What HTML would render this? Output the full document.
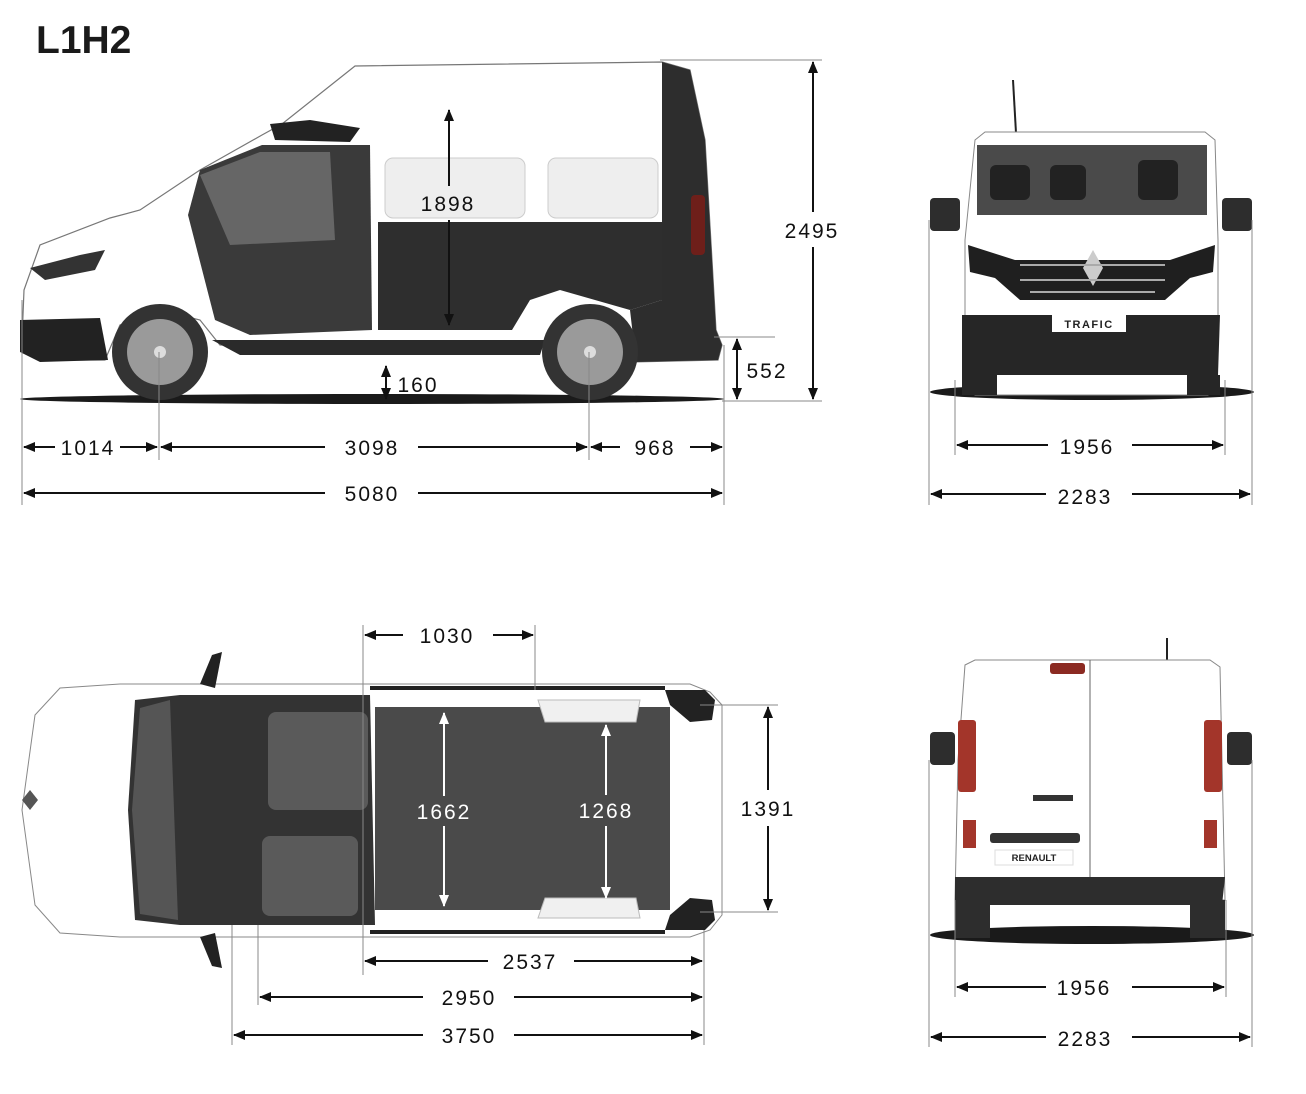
<!DOCTYPE html>
<html><head><meta charset="utf-8"><style>
html,body{margin:0;padding:0;background:#fff;}
svg{display:block;}
.t{font-family:"Liberation Sans",sans-serif;font-size:21px;fill:#111;letter-spacing:2px;text-anchor:middle;}
.tw{fill:#fff;}
.ext{stroke:#888;stroke-width:1;}
.dl{stroke:#111;stroke-width:2;fill:none;}
</style></head><body>
<svg width="1306" height="1094" viewBox="0 0 1306 1094" xmlns="http://www.w3.org/2000/svg">
<defs>
<marker id="a" viewBox="0 0 12 10" refX="11" refY="5" markerWidth="12" markerHeight="10" markerUnits="userSpaceOnUse" orient="auto-start-reverse"><path d="M0,0L12,5L0,10z" fill="#111"/></marker>
<marker id="w" viewBox="0 0 12 10" refX="11" refY="5" markerWidth="12" markerHeight="10" markerUnits="userSpaceOnUse" orient="auto-start-reverse"><path d="M0,0L12,5L0,10z" fill="#fff"/></marker>
</defs>
<text x="36" y="53" font-family="Liberation Sans,sans-serif" font-weight="bold" font-size="39" fill="#1a1a1a">L1H2</text>

<!-- SIDE VIEW -->
<ellipse cx="372" cy="399" rx="352" ry="5" fill="#1a1a1a"/>
<path d="M22,340 L24,290 L40,245 L110,218 L140,210 L200,170 L262,135 L282,124 L355,66 L662,62 L690,70 L705,140 L712,260 L716,330 L722,345 L718,360 L630,362 L600,330 L560,325 L540,345 L220,345 L200,320 L160,310 L120,325 L105,360 L40,360 Z" fill="#fff" stroke="#777" stroke-width="1.2"/>
<path d="M662,62 L690,70 L705,140 L712,260 L716,330 L722,345 L718,360 L636,362 L630,310 L662,300 Z" fill="#2d2d2d"/>
<path d="M378,222 L662,222 L662,300 L630,310 L560,290 L530,300 L512,330 L378,330 Z" fill="#2e2e2e"/>
<path d="M188,215 L200,170 L262,145 L370,145 L372,330 L250,335 L215,320 Z" fill="#3a3a3a"/>
<path d="M200,175 L260,152 L330,152 L335,240 L230,245 Z" fill="#666"/>
<rect x="385" y="158" width="140" height="60" rx="8" fill="#eee" stroke="#ccc"/>
<rect x="548" y="158" width="110" height="60" rx="8" fill="#eee" stroke="#ccc"/>
<path d="M270,124 L310,120 L360,128 L350,142 L275,140 Z" fill="#222"/>
<path d="M20,320 L100,318 L108,360 L40,362 L20,352 Z" fill="#222"/>
<path d="M30,268 L80,255 L105,250 L95,270 L45,280 Z" fill="#333"/>
<path d="M212,340 L545,340 L540,355 L240,355 Z" fill="#2a2a2a"/>
<rect x="691" y="195" width="14" height="60" rx="4" fill="#6e1f1a"/>
<circle cx="160" cy="352" r="48" fill="#333"/><circle cx="160" cy="352" r="33" fill="#9a9a9a"/><circle cx="160" cy="352" r="6" fill="#ddd"/>
<circle cx="590" cy="352" r="48" fill="#333"/><circle cx="590" cy="352" r="33" fill="#9a9a9a"/><circle cx="590" cy="352" r="6" fill="#ddd"/>

<!-- side dims -->
<line class="ext" x1="22" y1="300" x2="22" y2="505"/>
<line class="ext" x1="159" y1="352" x2="159" y2="460"/>
<line class="ext" x1="589" y1="352" x2="589" y2="460"/>
<line class="ext" x1="724" y1="345" x2="724" y2="505"/>
<line class="ext" x1="660" y1="60" x2="822" y2="60"/>
<line class="ext" x1="722" y1="401" x2="822" y2="401"/>
<line class="ext" x1="714" y1="337" x2="775" y2="337"/>
<line class="dl" x1="24" y1="447" x2="55" y2="447" marker-start="url(#a)"/><line class="dl" x1="120" y1="447" x2="157" y2="447" marker-end="url(#a)"/>
<text class="t" x="88" y="455">1014</text>
<line class="dl" x1="161" y1="447" x2="325" y2="447" marker-start="url(#a)"/><line class="dl" x1="418" y1="447" x2="587" y2="447" marker-end="url(#a)"/>
<text class="t" x="372" y="455">3098</text>
<line class="dl" x1="591" y1="447" x2="620" y2="447" marker-start="url(#a)"/><line class="dl" x1="690" y1="447" x2="722" y2="447" marker-end="url(#a)"/>
<text class="t" x="655" y="455">968</text>
<line class="dl" x1="24" y1="493" x2="325" y2="493" marker-start="url(#a)"/><line class="dl" x1="418" y1="493" x2="722" y2="493" marker-end="url(#a)"/>
<text class="t" x="372" y="501">5080</text>
<line class="dl" x1="813" y1="62" x2="813" y2="212" marker-start="url(#a)"/><line class="dl" x1="813" y1="247" x2="813" y2="399" marker-end="url(#a)"/>
<text class="t" x="812" y="238">2495</text>
<line class="dl" x1="737" y1="339" x2="737" y2="399" marker-start="url(#a)" marker-end="url(#a)"/>
<text class="t" x="767" y="378">552</text>
<line class="dl" x1="386" y1="366" x2="386" y2="399" marker-start="url(#a)" marker-end="url(#a)"/>
<text class="t" x="418" y="392">160</text>
<line class="dl" x1="449" y1="110" x2="449" y2="186" marker-start="url(#a)"/><line class="dl" x1="449" y1="220" x2="449" y2="325" marker-end="url(#a)"/>
<text class="t" x="448" y="211">1898</text>

<!-- FRONT VIEW -->
<ellipse cx="1092" cy="392" rx="162" ry="8" fill="#1a1a1a"/>
<line x1="1013" y1="80" x2="1016" y2="133" stroke="#222" stroke-width="2"/>
<path d="M975,140 L985,132 L1205,132 L1215,140 L1218,240 L1218,320 L1208,395 L975,395 L965,320 L965,240 Z" fill="#fff" stroke="#888"/>
<path d="M977,145 L1207,145 L1207,215 L977,215 Z" fill="#4a4a4a"/>
<rect x="990" y="165" width="40" height="35" rx="6" fill="#222"/><rect x="1050" y="165" width="36" height="35" rx="6" fill="#222"/><rect x="1138" y="160" width="40" height="40" rx="6" fill="#222"/>
<rect x="930" y="198" width="30" height="33" rx="4" fill="#2d2d2d"/><rect x="1222" y="198" width="30" height="33" rx="4" fill="#2d2d2d"/>
<path d="M968,245 L1015,260 L1170,260 L1215,245 L1213,272 L1190,278 L1165,300 L1020,300 L995,278 L970,272 Z" fill="#1f1f1f"/>
<path d="M1093,250 L1103,268 L1093,286 L1083,268 Z" fill="#ccc"/>
<line x1="1020" y1="265" x2="1165" y2="265" stroke="#aaa" stroke-width="2"/><line x1="1020" y1="280" x2="1165" y2="280" stroke="#aaa" stroke-width="2"/><line x1="1030" y1="292" x2="1155" y2="292" stroke="#aaa" stroke-width="2"/>
<path d="M962,315 L1220,315 L1218,375 L962,375 Z" fill="#262626"/>
<rect x="1052" y="313" width="74" height="19" fill="#fff"/>
<text x="1089" y="328" text-anchor="middle" font-family="Liberation Sans,sans-serif" font-weight="bold" font-size="11" letter-spacing="1.5" fill="#222">TRAFIC</text>
<rect x="997" y="375" width="190" height="12" fill="#fff"/>
<rect x="962" y="375" width="35" height="20" fill="#262626"/><rect x="1187" y="375" width="33" height="20" fill="#262626"/>
<line class="ext" x1="929" y1="220" x2="929" y2="505"/><line class="ext" x1="955" y1="380" x2="955" y2="455"/>
<line class="ext" x1="1225" y1="380" x2="1225" y2="455"/><line class="ext" x1="1252" y1="220" x2="1252" y2="505"/>
<line class="dl" x1="957" y1="445" x2="1048" y2="445" marker-start="url(#a)"/><line class="dl" x1="1132" y1="445" x2="1223" y2="445" marker-end="url(#a)"/>
<text class="t" x="1087" y="454">1956</text>
<line class="dl" x1="931" y1="494" x2="1046" y2="494" marker-start="url(#a)"/><line class="dl" x1="1132" y1="494" x2="1250" y2="494" marker-end="url(#a)"/>
<text class="t" x="1085" y="504">2283</text>

<!-- TOP VIEW -->
<path d="M60,688 L120,684 L690,684 L710,692 L722,705 L722,915 L710,930 L690,937 L120,937 L60,933 L35,905 L22,810 L35,715 Z" fill="#fff" stroke="#888"/>
<path d="M135,700 L180,695 L370,695 L375,925 L180,925 L135,920 L128,810 Z" fill="#333"/>
<path d="M140,708 L170,700 L178,920 L140,914 L132,810 Z" fill="#555"/>
<rect x="268" y="712" width="100" height="98" rx="8" fill="#5a5a5a"/>
<rect x="262" y="836" width="96" height="80" rx="8" fill="#5a5a5a"/>
<rect x="375" y="707" width="295" height="203" fill="#4a4a4a"/>
<path d="M538,700 L640,700 L636,722 L545,722 Z" fill="#f0f0f0" stroke="#bbb"/>
<path d="M545,898 L636,898 L640,918 L538,918 Z" fill="#f0f0f0" stroke="#bbb"/>
<path d="M665,690 L705,690 L715,700 L712,720 L690,722 L670,705 Z" fill="#222"/>
<path d="M665,930 L705,930 L715,920 L712,900 L690,898 L670,915 Z" fill="#222"/>
<line x1="370" y1="688" x2="665" y2="688" stroke="#222" stroke-width="4"/><line x1="370" y1="932" x2="665" y2="932" stroke="#222" stroke-width="4"/>
<path d="M200,684 L212,655 L222,652 L215,688 Z" fill="#222"/><path d="M200,937 L212,966 L222,968 L215,933 Z" fill="#222"/>
<path d="M30,790 L38,800 L30,810 L22,800 Z" fill="#555"/>
<!-- top dims -->
<line class="ext" x1="363" y1="625" x2="363" y2="975"/><line class="ext" x1="535" y1="625" x2="535" y2="690"/>
<line class="ext" x1="258" y1="925" x2="258" y2="1005"/><line class="ext" x1="232" y1="925" x2="232" y2="1045"/>
<line class="ext" x1="704" y1="930" x2="704" y2="1045"/>
<line class="ext" x1="700" y1="705" x2="778" y2="705"/><line class="ext" x1="700" y1="912" x2="778" y2="912"/>
<line class="dl" x1="365" y1="635" x2="403" y2="635" marker-start="url(#a)"/><line class="dl" x1="493" y1="635" x2="533" y2="635" marker-end="url(#a)"/>
<text class="t" x="447" y="643">1030</text>
<line class="dl" x1="365" y1="961" x2="488" y2="961" marker-start="url(#a)"/><line class="dl" x1="574" y1="961" x2="702" y2="961" marker-end="url(#a)"/>
<text class="t" x="530" y="969">2537</text>
<line class="dl" x1="260" y1="997" x2="423" y2="997" marker-start="url(#a)"/><line class="dl" x1="514" y1="997" x2="702" y2="997" marker-end="url(#a)"/>
<text class="t" x="469" y="1005">2950</text>
<line class="dl" x1="234" y1="1035" x2="423" y2="1035" marker-start="url(#a)"/><line class="dl" x1="514" y1="1035" x2="702" y2="1035" marker-end="url(#a)"/>
<text class="t" x="469" y="1043">3750</text>
<line x1="444" y1="713" x2="444" y2="796" stroke="#fff" stroke-width="2" marker-start="url(#w)"/><line x1="444" y1="826" x2="444" y2="906" stroke="#fff" stroke-width="2" marker-end="url(#w)"/>
<text class="t tw" x="444" y="819">1662</text>
<line x1="606" y1="725" x2="606" y2="795" stroke="#fff" stroke-width="2" marker-start="url(#w)"/><line x1="606" y1="826" x2="606" y2="898" stroke="#fff" stroke-width="2" marker-end="url(#w)"/>
<text class="t tw" x="606" y="818">1268</text>
<line class="dl" x1="768" y1="707" x2="768" y2="790" marker-start="url(#a)"/><line class="dl" x1="768" y1="826" x2="768" y2="910" marker-end="url(#a)"/>
<text class="t" x="768" y="816">1391</text>

<!-- REAR VIEW -->
<ellipse cx="1092" cy="935" rx="162" ry="9" fill="#1a1a1a"/>
<line x1="1167" y1="638" x2="1167" y2="660" stroke="#222" stroke-width="2"/>
<path d="M965,665 L975,660 L1210,660 L1220,667 L1225,900 L955,900 L958,760 Z" fill="#fff" stroke="#888"/>
<line x1="1090" y1="660" x2="1090" y2="877" stroke="#666"/>
<rect x="1050" y="663" width="35" height="11" rx="3" fill="#8b2a22"/>
<rect x="958" y="720" width="18" height="72" rx="3" fill="#a3352a"/><rect x="1204" y="720" width="18" height="72" rx="3" fill="#a3352a"/>
<rect x="963" y="820" width="13" height="28" fill="#a3352a"/><rect x="1204" y="820" width="13" height="28" fill="#a3352a"/>
<rect x="930" y="732" width="25" height="33" rx="4" fill="#2d2d2d"/><rect x="1227" y="732" width="25" height="33" rx="4" fill="#2d2d2d"/>
<rect x="1033" y="795" width="40" height="6" fill="#333"/>
<rect x="990" y="833" width="90" height="10" rx="3" fill="#333"/>
<rect x="995" y="850" width="78" height="15" fill="#fff" stroke="#ddd"/>
<text x="1034" y="861" text-anchor="middle" font-family="Liberation Sans,sans-serif" font-weight="bold" font-size="9.5" fill="#222">RENAULT</text>
<path d="M955,877 L1225,877 L1222,905 L955,905 Z" fill="#2d2d2d"/>
<rect x="955" y="900" width="35" height="38" fill="#2d2d2d"/><rect x="1190" y="900" width="35" height="38" fill="#2d2d2d"/>
<line class="ext" x1="929" y1="760" x2="929" y2="1047"/><line class="ext" x1="955" y1="900" x2="955" y2="997"/>
<line class="ext" x1="1226" y1="900" x2="1226" y2="997"/><line class="ext" x1="1252" y1="760" x2="1252" y2="1047"/>
<line class="dl" x1="957" y1="987" x2="1046" y2="987" marker-start="url(#a)"/><line class="dl" x1="1132" y1="987" x2="1224" y2="987" marker-end="url(#a)"/>
<text class="t" x="1084" y="995">1956</text>
<line class="dl" x1="931" y1="1037" x2="1046" y2="1037" marker-start="url(#a)"/><line class="dl" x1="1132" y1="1037" x2="1250" y2="1037" marker-end="url(#a)"/>
<text class="t" x="1085" y="1046">2283</text>
</svg>
</body></html>
